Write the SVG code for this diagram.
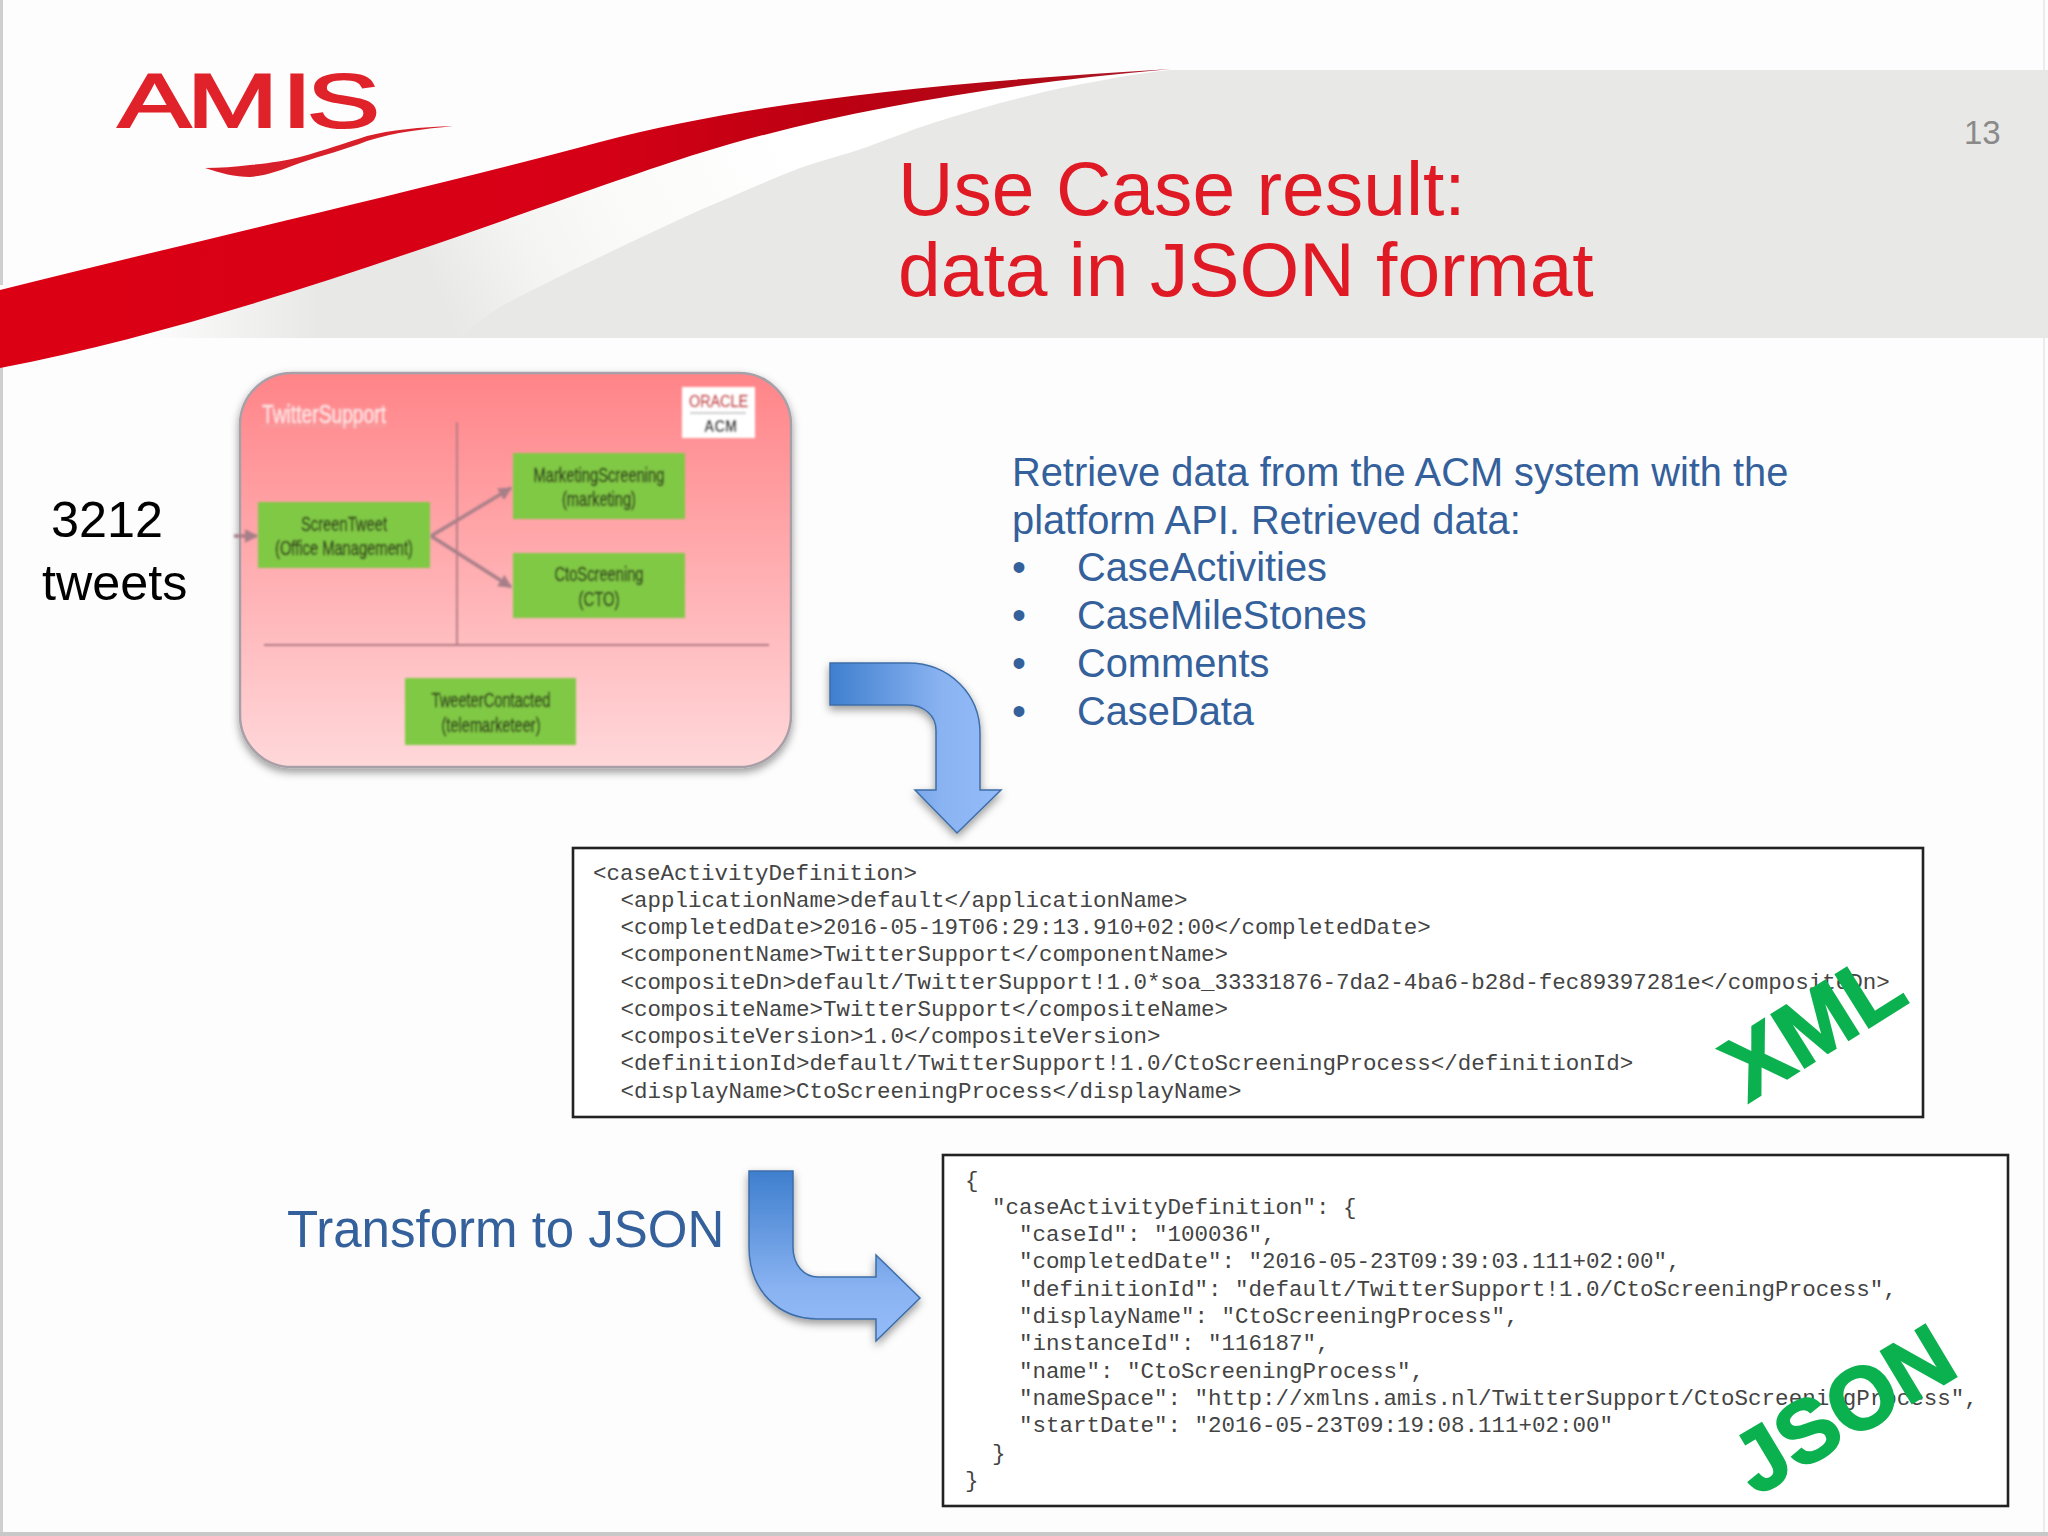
<svg xmlns="http://www.w3.org/2000/svg" width="2048" height="1536" viewBox="0 0 2048 1536">
<defs>
<style>
.sans{font-family:"Liberation Sans",Arial,sans-serif}
.mono{font-family:"Liberation Mono","Courier New",monospace;font-size:22.5px;fill:#444;white-space:pre}
.title{font-size:76.8px;fill:#e01a24}
.blue{font-size:39.8px;fill:#34609b}
.blk{font-size:50.3px;fill:#000}
.stamp{font-size:90px;font-weight:bold;fill:#0cb14f;stroke:#0cb14f;stroke-width:2}
.code{fill:#fff;stroke:#222;stroke-width:2.6}
.big{stroke:#3c6ea8;stroke-width:1.5}
.gbox{fill:#80c944}
.gt{font-size:21px;fill:#2f3a1e;stroke:#2f3a1e;stroke-width:.4;text-anchor:middle}
.wf{stroke:#a87f88;stroke-width:3.4;fill:none}
</style>
<linearGradient id="wedge" gradientUnits="userSpaceOnUse" x1="780" y1="130" x2="450" y2="300"><stop offset="0" stop-color="#ffffff"/><stop offset="0.5" stop-color="#fafaf9"/><stop offset="0.75" stop-color="#f4f4f3"/><stop offset="1" stop-color="#e9e9e8"/></linearGradient>
<linearGradient id="fade" gradientUnits="userSpaceOnUse" x1="140" y1="0" x2="320" y2="0"><stop offset="0" stop-color="#fdfdfd"/><stop offset="1" stop-color="#fdfdfd" stop-opacity="0"/></linearGradient>
<linearGradient id="red" gradientUnits="userSpaceOnUse" x1="0" y1="0" x2="1171" y2="0"><stop offset="0" stop-color="#dc0014"/><stop offset="0.5" stop-color="#d60016"/><stop offset="0.72" stop-color="#bb0012"/><stop offset="0.9" stop-color="#b00c18"/><stop offset="1" stop-color="#aa2030"/></linearGradient>
<linearGradient id="pink" x1="0" y1="0" x2="0" y2="1"><stop offset="0" stop-color="#ff8488"/><stop offset="1" stop-color="#ffd8da"/></linearGradient>
<linearGradient id="ah" gradientUnits="userSpaceOnUse" x1="830" y1="0" x2="990" y2="0"><stop offset="0" stop-color="#3f7fce"/><stop offset="0.7" stop-color="#8ab3f2"/><stop offset="1" stop-color="#92baf7"/></linearGradient>
<linearGradient id="av" gradientUnits="userSpaceOnUse" x1="0" y1="1171" x2="0" y2="1330"><stop offset="0" stop-color="#3f7fce"/><stop offset="0.75" stop-color="#8ab3f2"/><stop offset="1" stop-color="#92baf7"/></linearGradient>
<filter id="sh" x="-20%" y="-20%" width="140%" height="140%"><feDropShadow dx="0" dy="4" stdDeviation="4" flood-color="#000" flood-opacity="0.4"/></filter>
<filter id="soft" x="-5%" y="-5%" width="110%" height="110%"><feGaussianBlur stdDeviation="0.9"/></filter>
<marker id="wa" viewBox="0 0 10 10" refX="9" refY="5" markerWidth="4" markerHeight="4" orient="auto-start-reverse"><path d="M0 0L10 5L0 10z" fill="#a87f88"/></marker>
</defs>

<rect width="2048" height="1536" fill="#fdfdfd"/>
<rect x="0" y="0" width="3" height="1536" fill="#cfcfcf"/>
<rect x="0" y="1532" width="2048" height="4" fill="#c8c8c8"/>
<rect x="2043" y="0" width="2" height="1532" fill="#ececec"/>

<g id="header">
<path d="M1171 70H2048V338H0V329L100 304L300 250L500 192L700 135L900 96Z" fill="#e8e8e7"/>
<path d="M460 338C472 327 485 316 500 307C533 289 567 273 600 257C633 241 667 225 700 210C733 196 767 181 800 168C822 160 845 155 867 147C889 139 911 130 933 123C955 116 978 109 1000 103C1022 98 1045 91 1067 87C1089 83 1111 78 1133 75C1146 73 1160 71 1171 69L900 96L700 135L500 192L420 240Z" fill="url(#wedge)"/>
<rect x="0" y="285" width="320" height="54" fill="url(#fade)"/>
<path d="M0 290C200 240 420 190 600 142C760 100 950 82 1171 69C1000 84 840 110 700 153C560 196 260 318 0 368Z" fill="url(#red)"/>
</g>

<g id="logo">
<text class="sans" transform="scale(1.45 1)" x="81.400 129 194.400 211.800" y="127" font-size="75.400" fill="#e0222a" stroke="#e0222a" stroke-width="2">AMIS</text>
<path d="M205 168C220 168 235 167 250 165C270 163 285 161 300 157C325 150 345 143 367 136C390 130 420 127 453 126C425 129 395 132 367 141C345 150 322 155 300 163C282 170 265 176 250 177C235 177 220 173 205 168Z" fill="#d8202a"/>
</g>

<g id="title"><text class="sans title" x="898" y="215">Use Case result:</text><text class="sans title" x="898" y="296">data in JSON format</text></g>
<text id="page-number" class="sans" x="1964" y="144" font-size="33" fill="#8a8a8a">13</text>

<g id="tweets"><text class="sans blk" x="51" y="537">3212</text><text class="sans blk" x="42" y="600">tweets</text></g>

<g id="process-image">
<rect x="240" y="373" width="551" height="394" rx="52" fill="url(#pink)" stroke="#a8a0a8" stroke-width="2.5" filter="url(#sh)"/>
<g filter="url(#soft)">
<path d="M457 422V645M264 645H769" stroke="#b07a85" stroke-width="1.8" fill="none"/>
<path class="wf" d="M234 536H257" marker-end="url(#wa)"/>
<path class="wf" d="M431 536L511 488" marker-end="url(#wa)"/>
<path class="wf" d="M431 536L511 587" marker-end="url(#wa)"/>
<text class="sans" x="262" y="423" font-size="25" fill="#fce4e4" stroke="#fce4e4" stroke-width=".5" textLength="124" lengthAdjust="spacingAndGlyphs">TwitterSupport</text>
<path d="M262 426H386" stroke="#e8a8a8" stroke-width="1"/>
<rect x="682" y="387" width="73" height="51" fill="#fff"/>
<text class="sans" x="689" y="407" font-size="16" fill="#c8343a" stroke="#c8343a" stroke-width=".4" textLength="59" lengthAdjust="spacingAndGlyphs">ORACLE</text>
<path d="M690 413H746" stroke="#bbb" stroke-width="1.5"/>
<text class="sans" x="704" y="432" font-size="16" font-weight="bold" fill="#333" textLength="33" lengthAdjust="spacingAndGlyphs">ACM</text>
<g id="screen-tweet"><rect class="gbox" x="258" y="502" width="172" height="66"/><text class="sans gt" x="344" y="531" textLength="86" lengthAdjust="spacingAndGlyphs">ScreenTweet</text><text class="sans gt" x="344" y="555" textLength="138" lengthAdjust="spacingAndGlyphs">(Office Management)</text></g>
<g id="marketing-screening"><rect class="gbox" x="513" y="453" width="172" height="66"/><text class="sans gt" x="599" y="482" textLength="131" lengthAdjust="spacingAndGlyphs">MarketingScreening</text><text class="sans gt" x="599" y="506" textLength="74" lengthAdjust="spacingAndGlyphs">(marketing)</text></g>
<g id="cto-screening"><rect class="gbox" x="513" y="553" width="172" height="65"/><text class="sans gt" x="599" y="581" textLength="89" lengthAdjust="spacingAndGlyphs">CtoScreening</text><text class="sans gt" x="599" y="606" textLength="41" lengthAdjust="spacingAndGlyphs">(CTO)</text></g>
<g id="tweeter-contacted"><rect class="gbox" x="405" y="678" width="171" height="67"/><text class="sans gt" x="491" y="707" textLength="119" lengthAdjust="spacingAndGlyphs">TweeterContacted</text><text class="sans gt" x="491" y="732" textLength="99" lengthAdjust="spacingAndGlyphs">(telemarketeer)</text></g>
</g>
</g>

<g id="retrieve-text" class="sans blue">
<text x="1012" y="486">Retrieve data from the ACM system with the</text>
<text x="1012" y="534">platform API. Retrieved data:</text>
<text x="1012" y="581">•</text><text x="1077" y="581">CaseActivities</text>
<text x="1012" y="629">•</text><text x="1077" y="629">CaseMileStones</text>
<text x="1012" y="677">•</text><text x="1077" y="677">Comments</text>
<text x="1012" y="725">•</text><text x="1077" y="725">CaseData</text>
</g>

<g id="connectors">
<path class="big" fill="url(#ah)" filter="url(#sh)" d="M830 663H908C950 663 980 695 980 733V790H1001L957 833L915 790H936V730C936 716 924 705 908 705H830Z"/>
<path class="big" fill="url(#av)" filter="url(#sh)" d="M749 1171H793V1247C793 1265 804 1277 818 1277H876V1255L920 1298L876 1341V1319H818C778 1319 749 1290 749 1247Z"/>
</g>

<text id="transform-label" class="sans" x="287" y="1247" font-size="51" fill="#34609b">Transform to JSON</text>

<g id="xml-box">
<rect class="code" x="573" y="848" width="1350" height="269"/>
<g class="mono">
<text x="593" y="879.500">&lt;caseActivityDefinition&gt;</text>
<text x="620.500" y="906.800">&lt;applicationName&gt;default&lt;/applicationName&gt;</text>
<text x="620.500" y="934">&lt;completedDate&gt;2016-05-19T06:29:13.910+02:00&lt;/completedDate&gt;</text>
<text x="620.500" y="961.300">&lt;componentName&gt;TwitterSupport&lt;/componentName&gt;</text>
<text x="620.500" y="988.600">&lt;compositeDn&gt;default/TwitterSupport!1.0*soa_33331876-7da2-4ba6-b28d-fec89397281e&lt;/compositeDn&gt;</text>
<text x="620.500" y="1015.900">&lt;compositeName&gt;TwitterSupport&lt;/compositeName&gt;</text>
<text x="620.500" y="1043.100">&lt;compositeVersion&gt;1.0&lt;/compositeVersion&gt;</text>
<text x="620.500" y="1070.400">&lt;definitionId&gt;default/TwitterSupport!1.0/CtoScreeningProcess&lt;/definitionId&gt;</text>
<text x="620.500" y="1097.700">&lt;displayName&gt;CtoScreeningProcess&lt;/displayName&gt;</text>
</g>
<text class="sans stamp" style="font-size:91px" transform="translate(1748 1103) rotate(-32)">XML</text>
</g>

<g id="json-box">
<rect class="code" x="943" y="1155" width="1065" height="351"/>
<g class="mono">
<text x="965" y="1186.500">{</text>
<text x="992" y="1213.800">"caseActivityDefinition": {</text>
<text x="1019" y="1241.100">"caseId": "100036",</text>
<text x="1019" y="1268.400">"completedDate": "2016-05-23T09:39:03.111+02:00",</text>
<text x="1019" y="1295.700">"definitionId": "default/TwitterSupport!1.0/CtoScreeningProcess",</text>
<text x="1019" y="1323">"displayName": "CtoScreeningProcess",</text>
<text x="1019" y="1350.300">"instanceId": "116187",</text>
<text x="1019" y="1377.600">"name": "CtoScreeningProcess",</text>
<text x="1019" y="1404.900">"nameSpace": "http://xmlns.amis.nl/TwitterSupport/CtoScreeningProcess",</text>
<text x="1019" y="1432.200">"startDate": "2016-05-23T09:19:08.111+02:00"</text>
<text x="992" y="1459.500">}</text>
<text x="965" y="1486.800">}</text>
</g>
<text class="sans stamp" style="font-size:88px" transform="translate(1756 1497) rotate(-31)">JSON</text>
</g>
</svg>
